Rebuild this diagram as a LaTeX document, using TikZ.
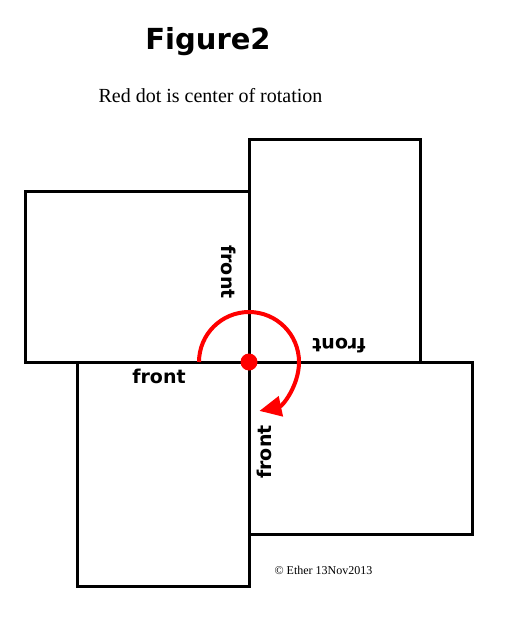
\documentclass[tikz,border=0pt]{standalone}
\usepackage{fontspec}
\setmainfont{Liberation Serif}
\newfontfamily\verd{DejaVu Sans}
\usetikzlibrary{arrows.meta}
\begin{document}
\begin{tikzpicture}[x=1pt,y=-1pt,
  box/.style={draw,line width=3pt,inner sep=0pt,outer sep=0pt},
  lbl/.style={font=\verd\bfseries\fontsize{19}{19}\selectfont,inner sep=0pt}]
\useasboundingbox (0,0) rectangle (505,629);
\node[box,minimum width=224pt,minimum height=171pt] (tl) at (137,276.5) {};
\node[box,minimum width=171pt,minimum height=223pt] (tr) at (334.5,250.5) {};
\node[box,minimum width=172pt,minimum height=224pt] (bl) at (163,474) {};
\node[box,minimum width=223pt,minimum height=172pt] (br) at (360.5,448) {};
\coordinate (c) at (249,362);
\node[lbl] (f1) at (159,376) {front};
\node[lbl,rotate=-90] (f2) at (229,272) {front};
\node[lbl,rotate=180] (f3) at (339,345.5) {front};
\node[lbl,rotate=90] (f4) at (264,452) {front};
\draw[red,line width=4pt,-{Triangle[length=22pt,width=20pt]}] ([xshift=-50pt]c) arc[start angle=180,end angle=-78,radius=50pt];
\fill[red] (c) circle[radius=8.5pt];
\node[font=\verd\bfseries\fontsize{29}{29}\selectfont,anchor=base,inner sep=0pt] (title) at (208,49) {Figure2};
\node[font=\fontsize{20}{20}\selectfont,anchor=base,inner sep=0pt] (sub) at (210.5,102) {Red dot is center of rotation};
\node[font=\fontsize{12}{12}\selectfont,anchor=base,inner sep=0pt] (copy) at (323.5,574) {© Ether 13Nov2013};
\end{tikzpicture}
\end{document}
